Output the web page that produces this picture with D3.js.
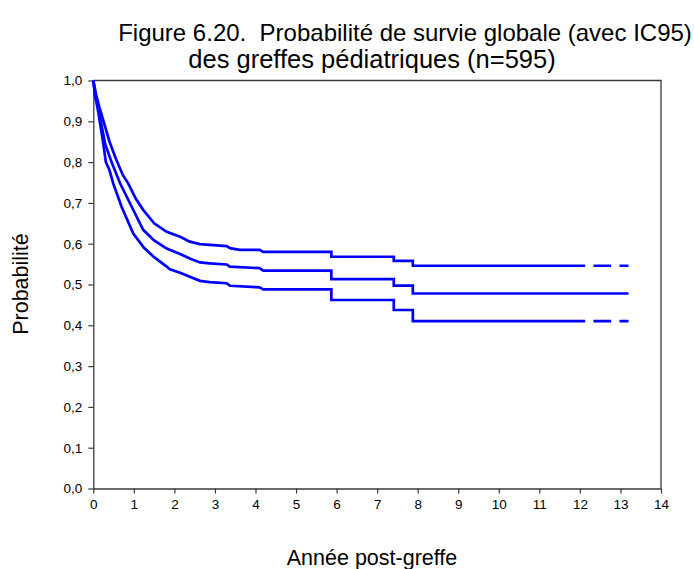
<!DOCTYPE html>
<html>
<head>
<meta charset="utf-8">
<script src="https://cdn.jsdelivr.net/npm/d3@7"></script>
<style>
  html, body { margin: 0; padding: 0; background: #fff; }
  svg { display: block; font-family: Arial, "Liberation Sans", sans-serif; }
  .pre { white-space: pre; }
</style>
</head>
<body>
<svg id="chart" width="694" height="569"></svg>
<script>
// Overall survival, pediatric transplants (n=595) — Kaplan-Meier estimate with 95% CI.
// Each pair [year, probability]; repeated years mark a vertical drop in the curve.
const survivalEstimate = [
  [0, 1.0], [0.05, 0.965], [0.13, 0.93], [0.29, 0.845], [0.45, 0.80], [0.66, 0.748],
  [0.95, 0.69], [1.23, 0.634], [1.5, 0.608], [1.81, 0.588], [2.14, 0.575], [2.38, 0.564],
  [2.63, 0.554], [2.87, 0.552], [3.29, 0.549], [3.37, 0.544], [4.1, 0.540], [4.19, 0.534],
  [5.87, 0.534], [5.87, 0.513], [7.41, 0.513], [7.41, 0.497], [7.88, 0.497], [7.88, 0.478],
  [13.2, 0.478]
];
const ciUpper = [
  [0, 1.0], [0.07, 0.965], [0.15, 0.935], [0.40, 0.85], [0.55, 0.81], [0.73, 0.768],
  [0.86, 0.748], [1.05, 0.71], [1.23, 0.683], [1.5, 0.65], [1.81, 0.629], [2.14, 0.617],
  [2.38, 0.605], [2.63, 0.599], [2.87, 0.597], [3.29, 0.594], [3.37, 0.589], [3.61, 0.585],
  [4.1, 0.585], [4.19, 0.580], [5.87, 0.580], [5.87, 0.568], [7.41, 0.568], [7.41, 0.558],
  [7.88, 0.558], [7.88, 0.546], [13.2, 0.546]
];
const ciLower = [
  [0, 1.0], [0.04, 0.965], [0.11, 0.93], [0.24, 0.85], [0.31, 0.80], [0.40, 0.78],
  [0.50, 0.745], [0.70, 0.69], [0.985, 0.625], [1.25, 0.59], [1.5, 0.567], [1.81, 0.544],
  [1.89, 0.537], [2.14, 0.529], [2.38, 0.519], [2.63, 0.509], [2.87, 0.506], [3.29, 0.503],
  [3.37, 0.497], [4.1, 0.493], [4.19, 0.488], [5.87, 0.488], [5.87, 0.462], [7.41, 0.462],
  [7.41, 0.4375], [7.88, 0.4375], [7.88, 0.41], [13.2, 0.41]
];
// Beyond this year the confidence bounds are drawn dashed.
const ciSolidUntil = 12.13;

const xTicks = d3.range(0, 15, 1);
const yTicks = d3.range(0, 11, 1).map(d => d / 10);
const titleLines = [
  "Figure 6.20.  Probabilité de survie globale (avec IC95)",
  "des greffes pédiatriques (n=595)"
];
const xLabel = "Année post-greffe";
const yLabel = "Probabilité";

const svg = d3.select("#chart");
const plot = { left: 93.3, right: 661, top: 80.5, bottom: 488.5 };

const x = d3.scaleLinear().domain([0, 14]).range([plot.left, plot.right]);
const y = d3.scaleLinear().domain([0, 1]).range([plot.bottom, plot.top]);

const fmtComma = d => d3.format(".1f")(d).replace(".", ",");
const axisColor = "#3a3a3a";

// Frame (top and right edges)
svg.append("path")
  .attr("d", `M${plot.left},${plot.top}H${plot.right}V${plot.bottom}`)
  .attr("fill", "none").attr("stroke", axisColor).attr("stroke-width", 1.3);

// Axes
const gx = svg.append("g").attr("transform", `translate(0,${plot.bottom})`)
  .call(d3.axisBottom(x).tickValues(xTicks).tickSize(5).tickPadding(6).tickSizeOuter(0));
const gy = svg.append("g").attr("transform", `translate(${plot.left},0)`)
  .call(d3.axisLeft(y).tickValues(yTicks).tickFormat(fmtComma).tickSize(5).tickPadding(6).tickSizeOuter(0));
[gx, gy].forEach(g => {
  g.select(".domain").attr("stroke", axisColor).attr("stroke-width", 1.3);
  g.selectAll(".tick line").attr("stroke", axisColor).attr("stroke-width", 1.2);
  g.selectAll(".tick text").attr("fill", "#000").style("font-size", "13.5px")
    .style("font-family", "Arial, 'Liberation Sans', sans-serif");
});

// Curves
const line = d3.line().x(d => x(d[0])).y(d => y(d[1]));
const blue = "#0000ff";
const lw = 2.7;

function drawCurve(data, dashedAfter) {
  if (dashedAfter == null) {
    svg.append("path").datum(data).attr("d", line)
      .attr("fill", "none").attr("stroke", blue).attr("stroke-width", lw);
    return;
  }
  const solid = data.filter(d => d[0] <= dashedAfter);
  const lastVal = solid[solid.length - 1][1];
  const tail = [[dashedAfter, lastVal]].concat(data.filter(d => d[0] > dashedAfter));
  solid.push([dashedAfter, lastVal]);
  svg.append("path").datum(solid).attr("d", line)
    .attr("fill", "none").attr("stroke", blue).attr("stroke-width", lw);
  svg.append("path").datum(tail).attr("d", line)
    .attr("fill", "none").attr("stroke", blue).attr("stroke-width", lw)
    .attr("stroke-dasharray", "0 8.3 17.7 8.3 9.4 100");
}

drawCurve(ciUpper, ciSolidUntil);
drawCurve(survivalEstimate, null);
drawCurve(ciLower, ciSolidUntil);

// Title
svg.append("text").attr("class", "pre").attr("x", 405).attr("y", 41)
  .attr("text-anchor", "middle").style("font-size", "24px").text(titleLines[0]);
svg.append("text").attr("x", 372).attr("y", 68)
  .attr("text-anchor", "middle").style("font-size", "25.5px").text(titleLines[1]);

// Axis titles
svg.append("text").attr("x", 372).attr("y", 565)
  .attr("text-anchor", "middle").style("font-size", "21.5px").text(xLabel);
svg.append("text").attr("transform", `translate(28,284) rotate(-90)`)
  .attr("text-anchor", "middle").style("font-size", "21.5px").text(yLabel);
</script>
</body>
</html>
